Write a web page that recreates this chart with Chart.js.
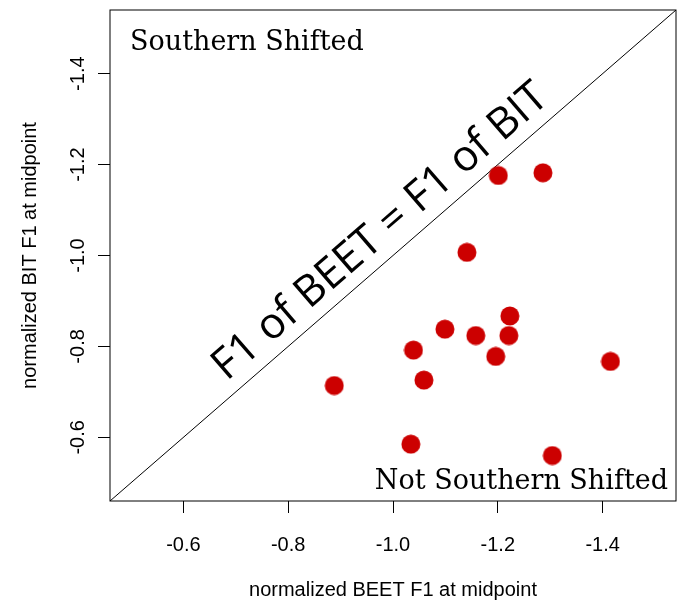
<!DOCTYPE html>
<html lang="en">
<head>
<meta charset="UTF-8">
<title>BEET vs BIT F1</title>
<script src="https://cdn.jsdelivr.net/npm/chart.js"></script>
<style>
    body { margin: 0; background: #fff; }
    #chart { display: block; }
</style>
</head>
<body>
<canvas id="chart" width="677" height="603"></canvas>

<script>
    // normalized F1 at midpoint, one entry per speaker
    var beetF1 = [-0.888, -1.039, -1.059, -1.034, -1.099, -1.158, -1.196, -1.223, -1.221, -1.141, -1.201, -1.286, -1.415, -1.304];
    var bitF1  = [-0.714, -0.792, -0.726, -0.585, -0.838, -0.824, -0.778, -0.867, -0.824, -1.007, -1.176, -1.182, -0.767, -0.560];

    var axisRange = [-0.46, -1.54];            // same limits on both axes
    var tickValues = [-0.6, -0.8, -1.0, -1.2, -1.4];

    var sans = '"Liberation Sans", Arial, sans-serif';

    // filled dot used as the point style (keeps chart.js from padding the plot area for big points)
    var dot = document.createElement('canvas');
    dot.width = 20;
    dot.height = 20;
    var dctx = dot.getContext('2d');
    dctx.fillStyle = '#cc0000';
    dctx.beginPath();
    dctx.arc(10, 10, 9.5, 0, Math.PI * 2);
    dctx.fill();

    // box round the plot, corner labels and the label along the diagonal
    var annotations = {
        id: 'annotations',
        afterDatasetsDraw: function(chart) {
            var ctx = chart.ctx;
            var area = chart.chartArea;
            var xs = chart.scales.x, ys = chart.scales.y;
            ctx.save();
            ctx.strokeStyle = '#000';
            ctx.lineWidth = 1;
            ctx.strokeRect(area.left, area.top, area.right - area.left, area.bottom - area.top);

            ctx.fillStyle = '#000';
            ctx.font = '27px "DejaVu Serif", serif';
            ctx.textBaseline = 'alphabetic';
            ctx.textAlign = 'left';
            ctx.fillText('Southern Shifted', area.left + 20, area.top + 40);
            ctx.textAlign = 'right';
            ctx.fillText('Not Southern Shifted', area.right - 8, area.bottom - 12);

            var x0 = xs.getPixelForValue(axisRange[0]), y0 = ys.getPixelForValue(axisRange[0]);
            var x1 = xs.getPixelForValue(axisRange[1]), y1 = ys.getPixelForValue(axisRange[1]);
            ctx.translate((x0 + x1) / 2, (y0 + y1) / 2);
            ctx.rotate(Math.atan2(y1 - y0, x1 - x0));
            ctx.font = '43px "Open Sans", sans-serif';
            ctx.textAlign = 'center';
            ctx.textBaseline = 'middle';
            ctx.fillText('F1 of BEET = F1 of BIT', 6, -26);
            ctx.restore();
        }
    };

    function setTicks(scale) {
        scale.ticks = tickValues.map(function(v) { return { value: v }; });
    }

    new Chart(document.getElementById('chart'), {
        type: 'scatter',
        data: {
            datasets: [{
                label: 'speakers',
                data: beetF1.map(function(x, i) { return { x: x, y: bitF1[i] }; }),
                pointStyle: dot,
                pointRadius: 1,
                pointHoverRadius: 1,
                borderWidth: 0
            }, {
                label: 'equal',
                data: [{ x: axisRange[0], y: axisRange[0] }, { x: axisRange[1], y: axisRange[1] }],
                showLine: true,
                borderColor: '#000',
                borderWidth: 1,
                pointRadius: 0
            }]
        },
        options: {
            responsive: false,
            animation: false,
            layout: { padding: { top: 10, right: 1, left: 0, bottom: 0 } },
            plugins: {
                legend: { display: false },
                tooltip: { enabled: false }
            },
            scales: {
                x: {
                    type: 'linear',
                    reverse: true,
                    min: axisRange[1],
                    max: axisRange[0],
                    afterBuildTicks: setTicks,
                    afterFit: function(s) {
                        s.height = 102;
                        s.paddingLeft = 0;
                        s.paddingRight = 0;
                    },
                    grid: { drawOnChartArea: false, drawTicks: true, tickLength: 12, color: '#000' },
                    border: { display: false },
                    ticks: {
                        padding: 20,
                        color: '#000',
                        maxRotation: 0,
                        autoSkip: false,
                        font: { family: sans, size: 20 },
                        callback: function(v) { return v.toFixed(1); }
                    },
                    title: {
                        display: true,
                        text: 'normalized BEET F1 at midpoint',
                        color: '#000',
                        font: { family: sans, size: 20 },
                        padding: { top: 0, bottom: 1 }
                    }
                },
                y: {
                    type: 'linear',
                    reverse: true,
                    min: axisRange[1],
                    max: axisRange[0],
                    afterBuildTicks: setTicks,
                    afterFit: function(s) {
                        s.width = 110;
                        s.paddingTop = 0;
                        s.paddingBottom = 0;
                    },
                    grid: { drawOnChartArea: false, drawTicks: true, tickLength: 12, color: '#000' },
                    border: { display: false },
                    ticks: {
                        padding: 2,
                        color: '#000',
                        crossAlign: 'center',
                        minRotation: 90,
                        maxRotation: 90,
                        autoSkip: false,
                        font: { family: sans, size: 20 },
                        callback: function(v) { return v.toFixed(1); }
                    },
                    title: {
                        display: true,
                        text: 'normalized BIT F1 at midpoint',
                        color: '#000',
                        font: { family: sans, size: 20 },
                        padding: { top: 18, bottom: 0 }
                    }
                }
            }
        },
        plugins: [annotations]
    });
</script>
</body>
</html>
